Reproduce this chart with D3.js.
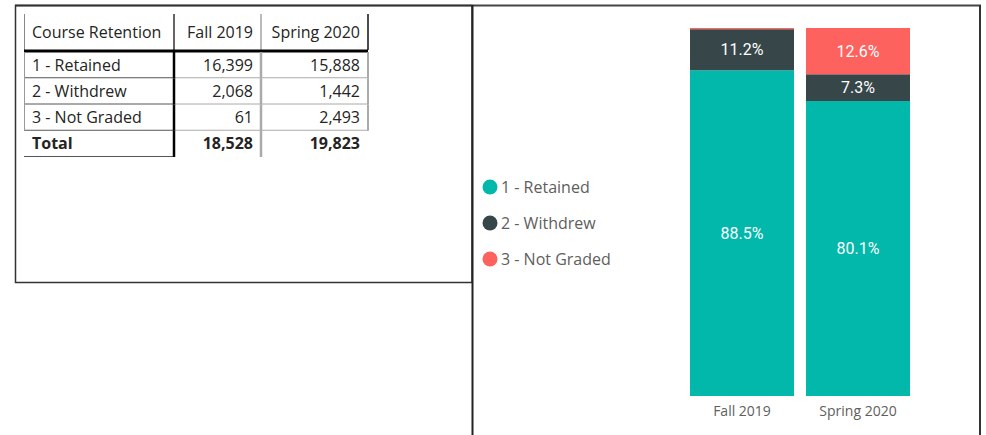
<!DOCTYPE html>
<html lang="en">
<head>
  <meta charset="UTF-8">
  <title>Course Retention</title>
  <style>
    body { margin: 0; background: #fff; }
    svg { display: block; }
    .cell { font-family: "Open Sans", sans-serif; font-size: 16px; fill: #252423; }
    .total { font-weight: bold; }
    .legend text { font-family: "Open Sans", sans-serif; font-size: 16px; fill: #605e5c; }
    .pct { font-family: Roboto, sans-serif; font-size: 16px; fill: #fff; }
    .xlab { font-family: "Open Sans", sans-serif; font-size: 14px; fill: #605e5c; }
  </style>
  <script src="https://cdn.jsdelivr.net/npm/d3@7"></script>
</head>
<body>
  <div id="chart"></div>
  <script>
    const terms = ['Fall 2019', 'Spring 2020']
    const categories = ['1 - Retained', '2 - Withdrew', '3 - Not Graded']
    const fall2019 = [16399, 2068, 61]
    const spring2020 = [15888, 1442, 2493]
    const colors = ['#01B8AA', '#374649', '#FD625E']

    const width = 986
    const height = 435
    const fmt = d3.format(',')
    const pct = d3.format('.1%')

    const svg = d3.select('#chart').append('svg')
      .attr('width', width)
      .attr('height', height)

    // panel frames
    svg.append('line').attr('x1', 15).attr('x2', 981).attr('y1', 5.5).attr('y2', 5.5)
      .attr('stroke', '#444').attr('stroke-width', 2)
    svg.append('rect').attr('x', 15.5).attr('y', 5.5).attr('width', 456.5).attr('height', 277)
      .attr('fill', 'none').attr('stroke', '#333').attr('stroke-width', 1.5)
    svg.append('line').attr('x1', 472.5).attr('x2', 472.5).attr('y1', 5).attr('y2', height)
      .attr('stroke', '#222').attr('stroke-width', 2)
    svg.append('line').attr('x1', 980).attr('x2', 980).attr('y1', 5).attr('y2', height)
      .attr('stroke', '#333').attr('stroke-width', 2)

    // ---- table ----
    const colEdges = [24, 174, 261, 368]
    const headY = [14, 50]
    const rowY = d3.scaleBand().domain(d3.range(4)).range([52, 157])
    const totals = [d3.sum(fall2019), d3.sum(spring2020)]
    const rows = categories.map((c, i) => [c, fall2019[i], spring2020[i]])
    rows.push(['Total', totals[0], totals[1]])

    const table = svg.append('g')

    // header
    table.append('line').attr('x1', colEdges[0] + 0.5).attr('x2', colEdges[0] + 0.5)
      .attr('y1', headY[0]).attr('y2', headY[1]).attr('stroke', '#888')
    table.append('line').attr('x1', colEdges[3]).attr('x2', colEdges[3])
      .attr('y1', headY[0]).attr('y2', headY[1]).attr('stroke', '#111').attr('stroke-width', 1.5)
    table.append('line').attr('x1', colEdges[2]).attr('x2', colEdges[2])
      .attr('y1', headY[0]).attr('y2', headY[1]).attr('stroke', '#bbb').attr('stroke-width', 2)
    table.append('line').attr('x1', colEdges[1]).attr('x2', colEdges[1])
      .attr('y1', headY[0]).attr('y2', headY[1]).attr('stroke', '#666').attr('stroke-width', 2)
    const head = ['Course Retention', ...terms]
    table.selectAll('.head').data(head).enter().append('text')
      .attr('class', 'cell head')
      .attr('x', (d, i) => i === 0 ? colEdges[0] + 8 : colEdges[i + 1] - 8)
      .attr('y', (headY[0] + headY[1]) / 2 + 5.5)
      .attr('text-anchor', (d, i) => i === 0 ? 'start' : 'end')
      .text(d => d)
    table.append('line').attr('x1', colEdges[0]).attr('x2', colEdges[3])
      .attr('y1', 51).attr('y2', 51).attr('stroke', '#000').attr('stroke-width', 3)

    // body rows
    rows.forEach((r, ri) => {
      const y0 = rowY(ri)
      const y1 = y0 + rowY.bandwidth()
      const isTotal = ri === rows.length - 1
      // bottom borders
      table.append('line').attr('x1', colEdges[0]).attr('x2', colEdges[1])
        .attr('y1', y1 - 0.5).attr('y2', y1 - 0.5).attr('stroke', '#555').attr('stroke-width', 1)
      if (!isTotal) {
        table.append('line').attr('x1', colEdges[1]).attr('x2', colEdges[3])
          .attr('y1', y1 - 0.5).attr('y2', y1 - 0.5).attr('stroke', '#aaa').attr('stroke-width', 1)
        table.append('line').attr('x1', colEdges[3]).attr('x2', colEdges[3])
          .attr('y1', y0).attr('y2', y1).attr('stroke', '#aaa').attr('stroke-width', 2)
        table.append('line').attr('x1', colEdges[0] + 0.5).attr('x2', colEdges[0] + 0.5)
          .attr('y1', y0).attr('y2', y1).attr('stroke', '#999')
      }
      table.append('line').attr('x1', colEdges[2]).attr('x2', colEdges[2])
        .attr('y1', y0).attr('y2', y1).attr('stroke', '#aaa').attr('stroke-width', 2.5)
      table.append('line').attr('x1', colEdges[1]).attr('x2', colEdges[1])
        .attr('y1', y0).attr('y2', y1).attr('stroke', '#000').attr('stroke-width', 2.5)
      r.forEach((v, ci) => {
        table.append('text')
          .attr('class', isTotal ? 'cell total' : 'cell')
          .attr('x', ci === 0 ? colEdges[0] + 8 : colEdges[ci + 1] - 8)
          .attr('y', (y0 + y1) / 2 + 5.5)
          .attr('text-anchor', ci === 0 ? 'start' : 'end')
          .text(ci === 0 ? v : fmt(v))
      })
    })

    // ---- stacked 100% bar chart ----
    const seriesData = [fall2019, spring2020].map((vals, i) => {
      const total = d3.sum(vals)
      const o = { term: terms[i] }
      categories.forEach((c, j) => { o[c] = vals[j] / total })
      return o
    })
    const stack = d3.stack().keys(categories)(seriesData)

    const x = d3.scaleBand().domain(terms).range([690, 910]).paddingInner(0.1034)
    const y = d3.scaleLinear().domain([0, 1]).range([396, 28])
    const color = d3.scaleOrdinal().domain(categories).range(colors)

    const layers = svg.selectAll('.layer').data(stack).enter().append('g')
      .attr('class', 'layer')
      .attr('fill', d => color(d.key))

    layers.selectAll('rect').data(d => d).enter().append('rect')
      .attr('x', d => x(d.data.term))
      .attr('y', d => y(d[1]))
      .attr('width', x.bandwidth())
      .attr('height', d => y(d[0]) - y(d[1]))

    layers.selectAll('text').data(d => d.filter(p => p[1] - p[0] > 0.03)).enter().append('text')
      .attr('class', 'pct')
      .attr('x', d => x(d.data.term) + x.bandwidth() / 2)
      .attr('y', d => (y(d[0]) + y(d[1])) / 2 + 5.5)
      .attr('text-anchor', 'middle')
      .text(d => pct(d[1] - d[0]))

    const xAxis = svg.append('g')
      .attr('transform', 'translate(0, 396)')
      .call(d3.axisBottom(x).tickSize(0).tickPadding(10))
    xAxis.select('.domain').remove()
    xAxis.selectAll('text').attr('class', 'xlab').attr('fill', null).attr('font-size', null).attr('font-family', null)

    // legend
    const legend = svg.append('g').attr('class', 'legend')
      .selectAll('g').data(categories).enter().append('g')
      .attr('transform', (d, i) => `translate(490, ${187 + i * 36})`)
    legend.append('circle').attr('r', 7.5).attr('fill', d => color(d))
    legend.append('text').attr('x', 11).attr('y', 6).text(d => d)
  </script>
</body>
</html>
